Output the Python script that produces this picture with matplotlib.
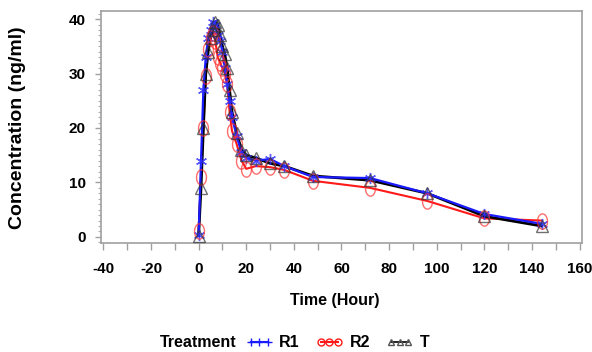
import numpy as np
import matplotlib
matplotlib.use('Agg')
import matplotlib.pyplot as plt
from matplotlib.lines import Line2D
from matplotlib.path import Path
from matplotlib.ticker import MultipleLocator

plt.rcParams['axes.unicode_minus'] = False

# sampling times (hours)
time = [0, 1, 2, 3, 4, 5, 6, 7, 8, 9, 10, 11, 12, 13, 14, 16, 18, 20, 24, 30, 36, 48, 72, 96, 120, 144]

r1 = [0.3, 14, 27, 33, 36.5, 38, 39.5, 39, 37, 36, 34, 31, 28, 25, 22, 18.5, 15.5, 14.5, 14, 14.3, 13, 11, 10.8, 8, 4.2, 2.4]
r2 = [1.0, 11, 20, 29.5, 34.5, 36.5, 37.5, 36, 33, 32, 31, 30, 28, 23, 19.5, 17, 14, 12.5, 13, 12.8, 12.3, 10.3, 9, 6.6, 3.4, 3.0]
t = [0.2, 9, 20, 30, 34, 36.5, 38, 39.5, 39, 37, 35, 33.5, 31, 27, 23, 19, 16, 15, 14.5, 13.5, 13, 11.2, 10.4, 8, 3.8, 2.0]

labels = ['R1', 'R2', 'T']

# tall ellipse for the circle markers (source image is squeezed sideways)
th = np.linspace(0, 2 * np.pi, 40)
ellipse = Path(np.column_stack([0.65 * np.cos(th), np.sin(th)]))
asterisk = (6, 2, 0)

FONT = 'Liberation Sans'

fig = plt.figure(figsize=(5.92, 3.52), dpi=100)
ax = fig.add_axes([0.1706, 0.310, 0.8125, 0.659])

ax.plot(time, t, color='black', lw=2.0, zorder=3)
ax.plot(time, r1, color='#1a1aff', lw=1.6, zorder=4)
ax.plot(time, r2, color='#ff1a1a', lw=1.5, zorder=2)
ax.plot(time, r1, ls='none', marker=asterisk, ms=8, mew=1, color='#3030ff', alpha=0.8, zorder=5)
ax.plot(time, r2, ls='none', marker=ellipse, ms=11, mew=1, mfc='none', mec='#ff3030', alpha=0.7, zorder=5)
ax.plot(time, t, ls='none', marker='^', ms=8, mew=1, mfc='none', mec='#333333', alpha=0.7, zorder=5)

ax.set_xlim(-41, 161)
ax.set_ylim(-1.1, 41.5)
ax.xaxis.set_major_locator(MultipleLocator(20))
ax.xaxis.set_minor_locator(MultipleLocator(10))
ax.yaxis.set_major_locator(MultipleLocator(10))
ax.yaxis.set_minor_locator(MultipleLocator(1))

for s in ax.spines.values():
    s.set_color('#a0a0a0')
    s.set_linewidth(1.2)

ax.tick_params(axis='x', which='both', direction='out', length=5, width=1, color='#a0a0a0', pad=9)
ax.tick_params(axis='y', which='major', direction='out', length=4, width=1, color='#a0a0a0', pad=7)
ax.tick_params(axis='y', which='minor', direction='out', length=2, width=0.8, color='#b0b0b0')

for lab in ax.get_xticklabels() + ax.get_yticklabels():
    lab.set_fontfamily(FONT)
    lab.set_fontweight('bold')
    lab.set_fontsize(11)

ax.set_xlabel('Time (Hour)', fontfamily=FONT, fontweight='bold', fontsize=11.5)
ax.xaxis.set_label_coords(0.486, -0.215)
fig.text(0.029, 0.638, 'Concentration (ng/ml)', rotation=90, ha='center', va='center',
         fontfamily=FONT, fontweight='bold', fontsize=14)

fig.text(0.27, 0.026, 'Treatment', ha='left', va='center',
         fontfamily=FONT, fontweight='bold', fontsize=11.5)

handles = [
    Line2D([], [], color='#1a1aff', lw=1.5, marker='+', ms=6),
    Line2D([], [], color='#ff1a1a', lw=1.5, marker='o', ms=5, mfc='none'),
    Line2D([], [], color='black', lw=1.2, marker='^', ms=5, mfc='none', mec='#555555'),
]
leg = fig.legend(handles, labels, loc='center', bbox_to_anchor=(0.570, 0.026), ncol=3,
                 frameon=False, handlelength=1.7, handletextpad=0.4, columnspacing=1.0,
                 numpoints=3, prop={'family': FONT, 'weight': 'bold', 'size': 11.5})

fig.savefig('out.png', dpi=100)
